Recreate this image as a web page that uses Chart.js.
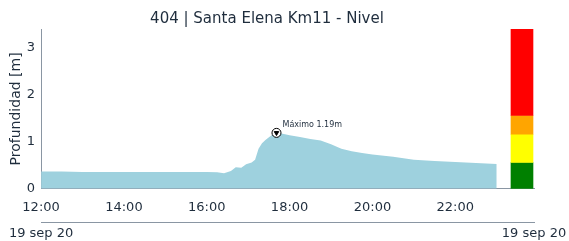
<!DOCTYPE html>
<html>
<head>
<meta charset="utf-8">
<script src="https://cdn.jsdelivr.net/npm/chart.js@4/dist/chart.umd.min.js"></script>
<style>
  html, body { margin: 0; padding: 0; background: #fff; }
  #wrap { width: 569px; height: 241px; }
</style>
</head>
<body>
<div id="wrap"><canvas id="levelChart"></canvas></div>
<script>
// data
const times = ['12:00','12:30','13:00','13:30','14:00','14:30','15:00','15:30','16:00','16:15',
    '16:25','16:35','16:42','16:50','16:57','17:05','17:10','17:15','17:20','17:25','17:31',
    '17:36','17:41','17:50','18:00','18:15','18:30','18:45','19:00','19:15','19:30','19:45',
    '20:00','20:30','21:00','21:30','22:00','22:30','23:00'];
const levels = [0.37,0.37,0.36,0.36,0.36,0.36,0.355,0.355,0.355,0.35,
    0.33,0.38,0.46,0.45,0.52,0.56,0.62,0.85,0.97,1.04,1.11,
    1.16,1.19,1.17,1.14,1.10,1.06,1.03,0.95,0.85,0.80,0.76,
    0.73,0.68,0.62,0.59,0.57,0.55,0.53];
const thresholdTop = [0.56, 1.16, 1.56, 3.4];
const thresholdColors = ['#008000', '#ffff00', '#ffa500', '#ff0000'];
const xTicks = ['12:00','14:00','16:00','18:00','20:00','22:00'];
const dateLabel = '19 sep 20';

const textColor = '#1f2d3d';
const axisColor = '#8a96a3';
const font = "'DejaVu Sans', sans-serif";

function toHours(t) {
    const p = t.split(':');
    return +p[0] + (+p[1]) / 60;
}

const series = times.map((t, i) => ({ x: toHours(t), y: levels[i] }));
let maxIdx = 0;
levels.forEach((v, i) => { if (v > levels[maxIdx]) maxIdx = i; });
const maxPoint = series[maxIdx];

const barX = 23.61;
const bars = thresholdTop.map((top, i) => ({ x: barX, y: [i === 0 ? 0 : thresholdTop[i - 1], top] }));

// label next to the maximum marker
const maxLabel = {
    id: 'maxLabel',
    afterDatasetsDraw(chart) {
        const ctx = chart.ctx;
        const px = chart.scales.x.getPixelForValue(maxPoint.x);
        const py = chart.scales.y.getPixelForValue(maxPoint.y);
        ctx.save();
        ctx.font = '8px ' + font;
        ctx.fillStyle = textColor;
        ctx.textBaseline = 'middle';
        ctx.fillText('Máximo ' + maxPoint.y.toFixed(2) + 'm', px + 6, py - 8);
        ctx.restore();
    }
};

const ctx = document.getElementById('levelChart').getContext('2d');
const levelChart = new Chart(ctx, {
    data: {
        datasets: [{
            type: 'scatter',
            data: [maxPoint],
            pointStyle: 'triangle',
            rotation: 180,
            pointRadius: 2.6,
            backgroundColor: '#000',
            borderColor: '#000',
            borderWidth: 1,
            order: 0
        }, {
            type: 'scatter',
            data: [maxPoint],
            pointStyle: 'circle',
            pointRadius: 4.5,
            backgroundColor: '#fff',
            borderColor: '#000',
            borderWidth: 1,
            order: 1
        }, {
            type: 'line',
            data: series,
            fill: 'origin',
            backgroundColor: '#9ed1de',
            borderWidth: 0,
            pointRadius: 0,
            tension: 0,
            order: 3
        }, {
            type: 'bar',
            data: bars,
            backgroundColor: thresholdColors,
            barThickness: 22,
            borderWidth: 0,
            order: 2
        }]
    },
    options: {
        responsive: true,
        maintainAspectRatio: false,
        animation: false,
        layout: {
            padding: { left: 0, right: 35, top: 0, bottom: 0 }
        },
        plugins: {
            legend: { display: false },
            tooltip: { enabled: false },
            title: {
                display: true,
                text: '404 | Santa Elena Km11 - Nivel',
                color: textColor,
                font: { family: font, size: 15, weight: 'normal' },
                padding: { top: 10, bottom: 1 }
            }
        },
        scales: {
            x: {
                type: 'linear',
                position: 'bottom',
                min: 12,
                max: 23.9,
                offset: false,
                weight: 1,
                grid: { display: false, drawTicks: true, tickLength: 4, tickColor: axisColor },
                border: { color: axisColor },
                afterBuildTicks: axis => { axis.ticks = xTicks.map(t => ({ value: toHours(t) })); },
                ticks: {
                    color: textColor,
                    font: { family: font, size: 13 },
                    maxRotation: 0,
                    padding: 7,
                    callback: v => xTicks.find(t => toHours(t) === v) || ''
                }
            },
            x2: {
                type: 'linear',
                position: 'bottom',
                min: 12,
                max: 23.9,
                offset: false,
                weight: 2,
                grid: { display: false, drawTicks: true, tickLength: 3, tickColor: axisColor },
                border: { color: axisColor },
                afterBuildTicks: axis => { axis.ticks = [{ value: 12 }, { value: 23.9 }]; },
                ticks: {
                    color: textColor,
                    font: { family: font, size: 13 },
                    maxRotation: 0,
                    padding: 0,
                    autoSkip: false,
                    callback: () => dateLabel
                }
            },
            y: {
                min: 0,
                max: 3.4,
                grid: { display: false, drawTicks: true, tickLength: 4, tickColor: axisColor },
                border: { color: axisColor },
                afterBuildTicks: axis => { axis.ticks = [0, 1, 2, 3].map(v => ({ value: v })); },
                ticks: {
                    color: textColor,
                    font: { family: font, size: 13 },
                    padding: 2
                },
                title: {
                    display: true,
                    text: 'Profundidad [m]',
                    color: textColor,
                    font: { family: font, size: 14 },
                    padding: { top: 8, bottom: 0 }
                }
            }
        }
    },
    plugins: [maxLabel]
});
</script>
</body>
</html>
